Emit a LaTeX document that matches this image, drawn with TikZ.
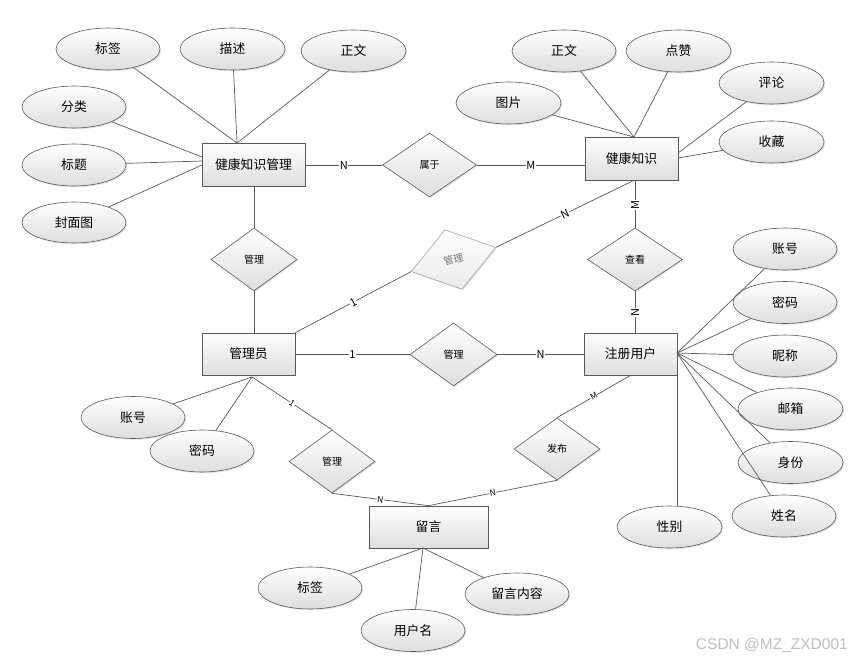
\documentclass[tikz,border=0pt]{standalone}
\usepackage{fontspec}
\setmainfont{Noto Sans CJK SC}
\newfontfamily\wmfont{Liberation Sans}
\usetikzlibrary{shapes.geometric,shadows}
\begin{document}
\begin{tikzpicture}[x=1pt,y=-1pt,
  every node/.style={font=\fontsize{12.8}{14}\selectfont},
  shd/.style={drop shadow={shadow xshift=1.2pt,shadow yshift=-1.2pt,opacity=0.22}},
  attr/.style={ellipse, draw=black!65, line width=0.6pt, top color=white, bottom color=black!13,
    minimum width=104pt, minimum height=42pt, inner sep=0pt, shd},
  ent/.style={rectangle, draw=black!65, line width=0.7pt, top color=white, bottom color=black!13,
    minimum width=93pt, minimum height=42pt, inner sep=0pt, shd},
  rel/.style={diamond, draw=black!65, line width=0.6pt, top color=white, bottom color=black!13,
    minimum width=86pt, minimum height=63pt, inner sep=0pt, shd, font=\fontsize{10}{12}\selectfont},
  conn/.style={draw=black!65, line width=0.7pt},
  card/.style={fill=white, inner sep=0.6pt, font=\fontsize{11}{12}\selectfont},
  cards/.style={fill=white, inner sep=0.4pt, font=\fontsize{8.5}{9}\selectfont, sloped}
]
\useasboundingbox (0,0) rectangle (855,659);

% entities
\node[ent, minimum width=103pt, minimum height=43pt] (hkm) at (253.5,164.5) {健康知识管理};
\node[ent, minimum height=43pt] (hk) at (631.5,158.5) {健康知识};
\node[ent] (adm) at (248.5,354) {管理员};
\node[ent] (usr) at (630.5,354) {注册用户};
\node[ent, minimum width=119pt] (msg) at (428.5,527) {留言};

% relationships
\node[rel, minimum width=94pt, minimum height=64pt] (rBelong) at (429.5,165) {属于};
\node[rel] (rMan1) at (254,259.5) {管理};
\node[rel, draw=black!35, bottom color=black!8, text=black!55, minimum width=88pt, minimum height=62pt, rotate=16] (rMan2) at (453.5,259.5) {管理};
\node[rel, minimum width=95pt] (rSee) at (635,259.5) {查看};
\node[rel, minimum width=87pt] (rMan3) at (453.5,354.5) {管理};
\node[rel] (rMan4) at (332,461.5) {管理};
\node[rel, minimum height=62pt] (rPub) at (557,449) {发布};

% attributes of 健康知识管理
\node[attr] (kTag) at (108,49) {标签};
\node[attr, minimum width=105pt] (kDesc) at (232.5,49) {描述};
\node[attr, minimum width=105pt] (kText) at (353.5,51) {正文};
\node[attr] (kCat) at (74,107) {分类};
\node[attr] (kTitle) at (74,165) {标题};
\node[attr, minimum height=41pt] (kCover) at (74,222.5) {封面图};

% attributes of 健康知识
\node[attr] (hText) at (564,51) {正文};
\node[attr, minimum width=105pt] (hLike) at (678.5,51) {点赞};
\node[attr, minimum width=105pt] (hPic) at (508.5,103) {图片};
\node[attr, minimum width=105pt] (hCom) at (771.5,83) {评论};
\node[attr, minimum width=105pt] (hFav) at (771.5,142) {收藏};

% attributes of 注册用户
\node[attr] (uAcc) at (785,249) {账号};
\node[attr] (uPwd) at (785,302.5) {密码};
\node[attr] (uNick) at (785,356) {昵称};
\node[attr, minimum width=105pt] (uMail) at (790.5,409) {邮箱};
\node[attr, minimum width=105pt] (uRole) at (790.5,462.5) {身份};
\node[attr] (uName) at (784,516) {姓名};
\node[attr, minimum width=105pt] (uSex) at (669.5,527) {性别};

% attributes of 管理员
\node[attr] (aAcc) at (133,417.5) {账号};
\node[attr] (aPwd) at (202,451) {密码};

% attributes of 留言
\node[attr] (mTag) at (310,588) {标签};
\node[attr] (mUser) at (413,630.5) {用户名};
\node[attr] (mText) at (517,594) {留言内容};

% junction points
\coordinate (hkmT) at (237,143);
\coordinate (hkmL1) at (202,157);
\coordinate (hkmL2) at (202,161);
\coordinate (hkmL3) at (202,165);
\coordinate (hkT) at (634,137);
\coordinate (hkR1) at (678,153);
\coordinate (hkR2) at (678,158);
\coordinate (usrR) at (677,353);
\coordinate (admB) at (252,377);
\coordinate (msgB) at (423,548);

% attribute connectors
\begin{scope}[conn]
\draw (kTag) -- (hkmT);
\draw (kDesc) -- (hkmT);
\draw (kText) -- (hkmT);
\draw (kCat) -- (hkmL1);
\draw (kTitle) -- (hkmL2);
\draw (kCover) -- (hkmL3);
\draw (hPic) -- (hkT);
\draw (hText) -- (hkT);
\draw (hLike) -- (hkT);
\draw (hCom) -- (hkR1);
\draw (hFav) -- (hkR2);
\draw (uAcc) -- (usrR);
\draw (uPwd) -- (usrR);
\draw (uNick) -- (usrR);
\draw (uMail) -- (usrR);
\draw (uRole) -- (usrR);
\draw (uName) -- (usrR);
\draw (usr.south east) -- (usr.south east |- uSex.north);
\draw (aAcc) -- (admB);
\draw (aPwd) -- (admB);
\draw (mTag) -- (msgB);
\draw (mUser) -- (msgB);
\draw (mText) -- (msgB);
\end{scope}

% relationship connectors
\begin{scope}[conn]
\draw (hkm.east |- rBelong.west) -- node[card] {N} (rBelong.west);
\draw (rBelong.east) -- node[card] {M} (rBelong.east -| hk.west);
\draw (hkm.south -| rMan1.north) -- (rMan1.north);
\draw (rMan1.south) -- (rMan1.south |- adm.north);
\draw (adm.north east) -- node[card, sloped] {1} (rMan2.west);
\draw (rMan2.east) -- node[card, sloped] {N} (hkT |- hk.south);
\draw (rSee.north |- hk.south) -- node[card, rotate=90, pos=0.52] {M} (rSee.north);
\draw (rSee.south) -- node[card, rotate=90, pos=0.52] {N} (rSee.south |- usr.north);
\draw (adm.east |- rMan3.west) -- node[card] {1} (rMan3.west);
\draw (rMan3.east) -- node[card] {N} (rMan3.east -| usr.west);
\draw (admB) -- node[cards] {1} (rMan4.north);
\draw (rMan4.south) -- node[cards] {N} (msg.north);
\draw (usr.south) -- node[cards] {M} (rPub.north);
\draw (rPub.south) -- node[cards] {N} (msg.north);
\end{scope}

% watermark
\node[anchor=east, text=black!25, font=\wmfont\fontsize{15.5}{17}\selectfont, inner sep=0pt] (wm) at (848,645) {CSDN @MZ\_ZXD001};
\end{tikzpicture}
\end{document}
